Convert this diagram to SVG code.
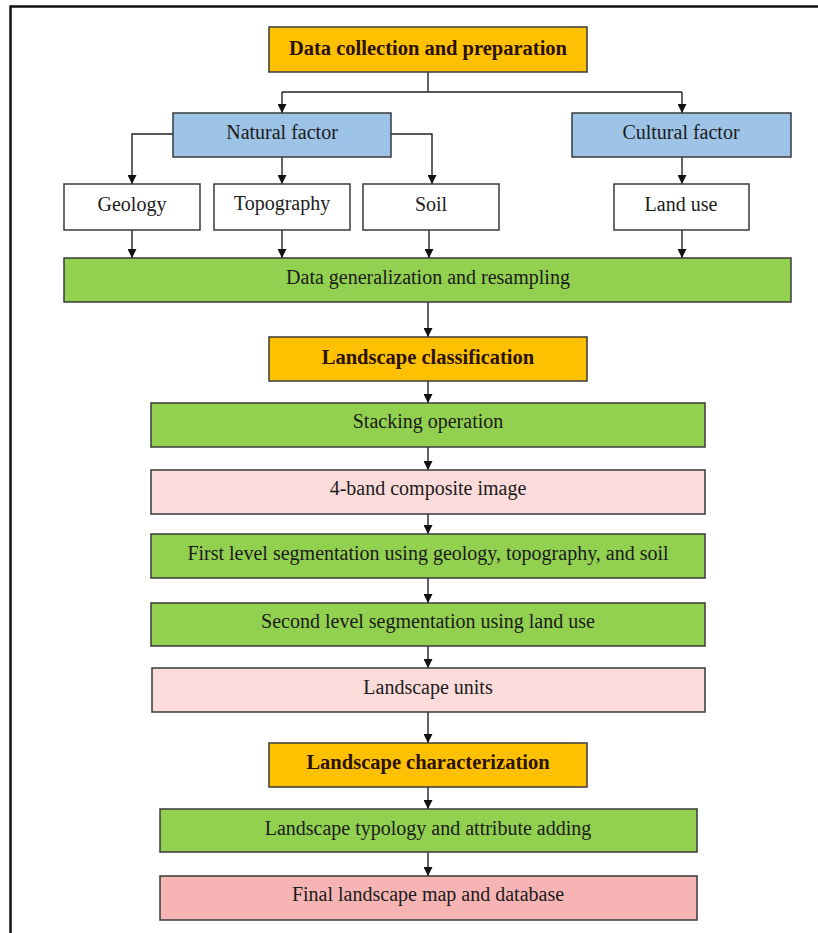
<svg xmlns="http://www.w3.org/2000/svg" width="818" height="933" viewBox="0 0 818 933">
<style>
.box{stroke:#3a3a3a;stroke-width:1.5}
.o{fill:#FFC000}.b{fill:#9DC3E6}.w{fill:#FFFFFF}.g{fill:#92D050}.p{fill:#FCDCDB}.pp{fill:#F7B4B4}
text{font-family:"Liberation Serif","Times New Roman",serif;font-size:20px;fill:#1b1b1b;text-anchor:middle}
.t{font-weight:bold;fill:#2a1200;font-size:20.5px}
.c{stroke:#222;stroke-width:1.4;fill:none}
</style>
<defs>
<marker id="ah" viewBox="0 0 10 10" refX="10" refY="5" markerWidth="9" markerHeight="9" markerUnits="userSpaceOnUse" orient="auto">
<path d="M0,0 L10,5 L0,10 Z" fill="#111"/>
</marker>
</defs>
<rect width="818" height="933" fill="#fff"/>
<g id="frame">
<line x1="10" y1="6.5" x2="818" y2="6.5" stroke="#111" stroke-width="2.5"/>
<line x1="10.5" y1="5.5" x2="10.5" y2="933" stroke="#111" stroke-width="2.5"/>
</g>
<g id="connectors">
<path class="c" d="M428,72 V92 M282,92 H682"/>
<path class="c" d="M282,92 V113" marker-end="url(#ah)"/>
<path class="c" d="M682,92 V113" marker-end="url(#ah)"/>
<path class="c" d="M173,134 H132 V184" marker-end="url(#ah)"/>
<path class="c" d="M282,157 V184" marker-end="url(#ah)"/>
<path class="c" d="M391,134 H432 V184" marker-end="url(#ah)"/>
<path class="c" d="M682,157 V184" marker-end="url(#ah)"/>
<path class="c" d="M132,230 V258" marker-end="url(#ah)"/>
<path class="c" d="M282,230 V258" marker-end="url(#ah)"/>
<path class="c" d="M429,230 V258" marker-end="url(#ah)"/>
<path class="c" d="M682,230 V258" marker-end="url(#ah)"/>
<path class="c" d="M428,302 V337" marker-end="url(#ah)"/>
<path class="c" d="M428,381 V403" marker-end="url(#ah)"/>
<path class="c" d="M428,447 V470" marker-end="url(#ah)"/>
<path class="c" d="M428,514 V534" marker-end="url(#ah)"/>
<path class="c" d="M428,578 V603" marker-end="url(#ah)"/>
<path class="c" d="M428,646 V668" marker-end="url(#ah)"/>
<path class="c" d="M428,712 V743" marker-end="url(#ah)"/>
<path class="c" d="M428,787 V809" marker-end="url(#ah)"/>
<path class="c" d="M428,852 V876" marker-end="url(#ah)"/>
</g>
<g id="data-collection"><rect class="box o" x="269" y="27" width="318" height="45"/><text class="t" x="428" y="55">Data collection and preparation</text></g>
<g id="natural-factor"><rect class="box b" x="173" y="113" width="218" height="44"/><text x="282" y="139">Natural factor</text></g>
<g id="cultural-factor"><rect class="box b" x="572" y="113" width="219" height="44"/><text x="681" y="139">Cultural factor</text></g>
<g id="geology"><rect class="box w" x="64" y="184" width="136" height="46"/><text x="132" y="211">Geology</text></g>
<g id="topography"><rect class="box w" x="214" y="184" width="136" height="46"/><text x="282" y="210">Topography</text></g>
<g id="soil"><rect class="box w" x="363" y="184" width="136" height="46"/><text x="431" y="211">Soil</text></g>
<g id="land-use"><rect class="box w" x="614" y="184" width="135" height="46"/><text x="681" y="211">Land use</text></g>
<g id="data-generalization"><rect class="box g" x="64" y="258" width="727" height="44"/><text x="428" y="284">Data generalization and resampling</text></g>
<g id="landscape-classification"><rect class="box o" x="269" y="337" width="318" height="44"/><text class="t" x="428" y="364">Landscape classification</text></g>
<g id="stacking"><rect class="box g" x="151" y="403" width="554" height="44"/><text x="428" y="428">Stacking operation</text></g>
<g id="composite"><rect class="box p" x="151" y="470" width="554" height="44"/><text x="428" y="495">4-band composite image</text></g>
<g id="first-level"><rect class="box g" x="151" y="534" width="554" height="44"/><text x="428" y="560">First level segmentation using geology, topography, and soil</text></g>
<g id="second-level"><rect class="box g" x="151" y="603" width="554" height="43"/><text x="428" y="628">Second level segmentation using land use</text></g>
<g id="landscape-units"><rect class="box p" x="152" y="668" width="553" height="44"/><text x="428" y="694">Landscape units</text></g>
<g id="landscape-characterization"><rect class="box o" x="269" y="743" width="318" height="44"/><text class="t" x="428" y="769">Landscape characterization</text></g>
<g id="typology"><rect class="box g" x="160" y="809" width="537" height="43"/><text x="428" y="835">Landscape typology and attribute adding</text></g>
<g id="final"><rect class="box pp" x="160" y="876" width="537" height="44"/><text x="428" y="901">Final landscape map and database</text></g>
</svg>
